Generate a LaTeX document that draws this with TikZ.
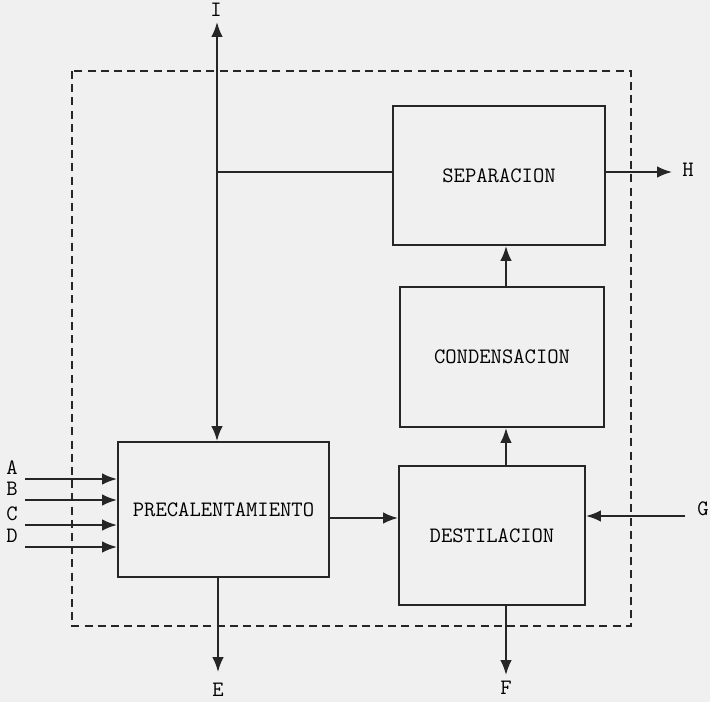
\documentclass[tikz,border=0pt]{standalone}
\usepackage{tikz}
\usetikzlibrary{arrows.meta,positioning}

\begin{document}
\begin{tikzpicture}[
  x=0.5pt, y=-0.5pt,
  font=\ttfamily\fontsize{11}{13}\selectfont,
  box/.style={draw=black!85, line width=1pt, align=center, inner sep=0pt},
  flow/.style={-{Latex[length=2.6mm,width=2mm]}, line width=0.9pt, draw=black!85},
  line/.style={line width=0.9pt, draw=black!85},
  boundary/.style={dashed, dash pattern=on 4pt off 2.6pt, line width=0.8pt, draw=black!85},
  tag/.style={inner sep=1pt}
]
\fill[black!6] (0,0) rectangle (710,702);
\useasboundingbox (0,0) rectangle (710,702);

% control volume
\draw[boundary] (72,71) rectangle (631,626);

% process units
\node[box, minimum width=105.5pt, minimum height=67.5pt] (precal) at (223.5,509.5)
  {PRECALENTAMIENTO};
\node[box, minimum width=93pt, minimum height=69.5pt] (destil) at (492,535.5)
  {DESTILACION};
\node[box, minimum width=102pt, minimum height=70pt] (cond) at (502,357)
  {CONDENSACION};
\node[box, minimum width=106pt, minimum height=69.5pt] (sep) at (499,175.5)
  {SEPARACION};

% free ends of the streams
\coordinate (itop) at (217,22);
\coordinate (hend) at (672,172);
\coordinate (gend) at (685,516);
\coordinate (eend) at (218,672);
\coordinate (fend) at (506,675);

% feeds A to D
\foreach \name/\ypos in {A/479, B/500, C/525, D/547} {
  \coordinate (in\name) at (25,\ypos);
  \draw[flow] (in\name) -- (in\name -| precal.west);
  \node[tag] at (12,\ypos-11) {\name};
}

% streams between units
\draw[flow] ([yshift=-4.25pt]precal.east) -- ([yshift=-4.25pt]precal.east -| destil.west);
\draw[flow] (destil.north -| fend) -- (cond.south -| fend);
\draw[flow] (cond.north -| fend) -- (sep.south -| fend);
\draw[flow] (gend) -- (gend -| destil.east);
\draw[flow] (destil.south -| fend) -- (fend);
\draw[flow] (precal.south -| eend) -- (eend);
\draw[flow] (sep.east |- hend) -- (hend);
\draw[line] (sep.west |- hend) -- (itop |- hend);
\draw[line, {Latex[length=2.6mm,width=2mm]}-{Latex[length=2.6mm,width=2mm]}]
  (itop) -- (itop |- precal.north);

% stream labels
\node[tag] at (216,10) {I};
\node[tag] at (688,170) {H};
\node[tag] at (703,509) {G};
\node[tag] at (218,690) {E};
\node[tag] at (506,688) {F};
\end{tikzpicture}
\end{document}
